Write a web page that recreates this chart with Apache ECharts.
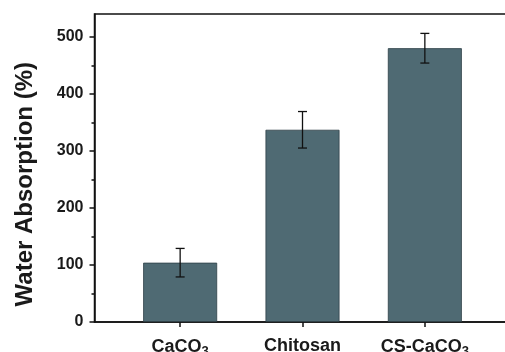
<!DOCTYPE html>
<html>
<head>
<meta charset="utf-8">
<script src="https://cdn.jsdelivr.net/npm/echarts@6/dist/echarts.min.js"></script>
<style>html,body{margin:0;padding:0;background:#fff}#c{width:505px;height:352px}</style>
</head>
<body>
<div id="c"></div>
<script>
var categories = ['CaCO3', 'Chitosan', 'CS-CaCO3'];
var values = [104, 337, 480];
var errors = [25, 32, 26];
var yMajorTicks = [0, 100, 200, 300, 400, 500];
var yMinorTicks = [50, 150, 250, 350, 450];

var FONT = '"Liberation Sans", Arial, sans-serif';
var positions = categories.map(function (c, i) { return i + 1; });

function fmtCat(v) {
  var name = categories[Math.round(v) - 1] || '';
  var m = name.match(/^(.*?)(\d+)$/);
  if (m) return '{a|' + m[1] + '}{s|' + m[2] + '}';
  return '{a|' + name + '}';
}

var chart = echarts.init(document.getElementById('c'));
chart.setOption({
  animation: false,
  backgroundColor: '#fff',
  grid: { left: 94.5, width: 416, top: 14, bottom: 30, show: true, borderColor: '#111', borderWidth: 1.5, backgroundColor: 'transparent', containLabel: false, outerBoundsMode: 'none' },
  xAxis: {
    type: 'value', min: 0.3, max: 3.7,
    splitLine: { show: false },
    axisLine: { show: true, onZero: false, lineStyle: { color: '#111', width: 1.5 } },
    axisTick: { show: true, customValues: positions, length: 5, lineStyle: { color: '#111', width: 1.5 } },
    axisLabel: {
      customValues: positions, margin: 15, formatter: fmtCat,
      rich: {
        a: { fontFamily: FONT, fontWeight: 'bold', fontSize: 18, color: '#1a1a1a' },
        s: { fontFamily: FONT, fontWeight: 'bold', fontSize: 13, color: '#1a1a1a', verticalAlign: 'bottom', padding: [8, 0, 0, 0] }
      }
    }
  },
  yAxis: [{
    type: 'value', min: 0, max: 540,
    splitLine: { show: false },
    axisLine: { show: true, lineStyle: { color: '#111', width: 1.5 } },
    axisTick: { show: true, customValues: yMajorTicks, length: 5, lineStyle: { color: '#111', width: 1.5 } },
    axisLabel: { customValues: yMajorTicks, margin: 11, fontFamily: FONT, fontWeight: 'bold', fontSize: 16, color: '#1a1a1a' }
  }, {
    type: 'value', min: 0, max: 540, position: 'left',
    splitLine: { show: false },
    axisLine: { show: false },
    axisTick: { show: true, customValues: yMinorTicks, length: 3, lineStyle: { color: '#111', width: 1.5 } },
    axisLabel: { show: false }
  }],
  graphic: [{
    type: 'text', left: 13, top: 62, rotation: Math.PI / 2,
    style: { text: 'Water Absorption (%)', fontFamily: FONT, fontWeight: 'bold', fontSize: 24, fill: '#1a1a1a' }
  }],
  series: [{
    type: 'bar', barWidth: 74,
    itemStyle: { color: '#4f6a73', borderColor: '#2e4047', borderWidth: 0.8 },
    data: values.map(function (v, i) { return [positions[i], v]; })
  }, {
    type: 'custom',
    data: values.map(function (v, i) { return [positions[i], v - errors[i], v + errors[i]]; }),
    renderItem: function (params, api) {
      var x = api.value(0);
      var lo = api.coord([x, api.value(1)]);
      var hi = api.coord([x, api.value(2)]);
      var hw = 4.5;
      var st = { stroke: '#111', lineWidth: 1.3 };
      return { type: 'group', children: [
        { type: 'line', shape: { x1: lo[0], y1: lo[1], x2: hi[0], y2: hi[1] }, style: st },
        { type: 'line', shape: { x1: hi[0] - hw, y1: hi[1], x2: hi[0] + hw, y2: hi[1] }, style: st },
        { type: 'line', shape: { x1: lo[0] - hw, y1: lo[1], x2: lo[0] + hw, y2: lo[1] }, style: st }
      ]};
    },
    z: 5
  }]
});
</script>
</body>
</html>
